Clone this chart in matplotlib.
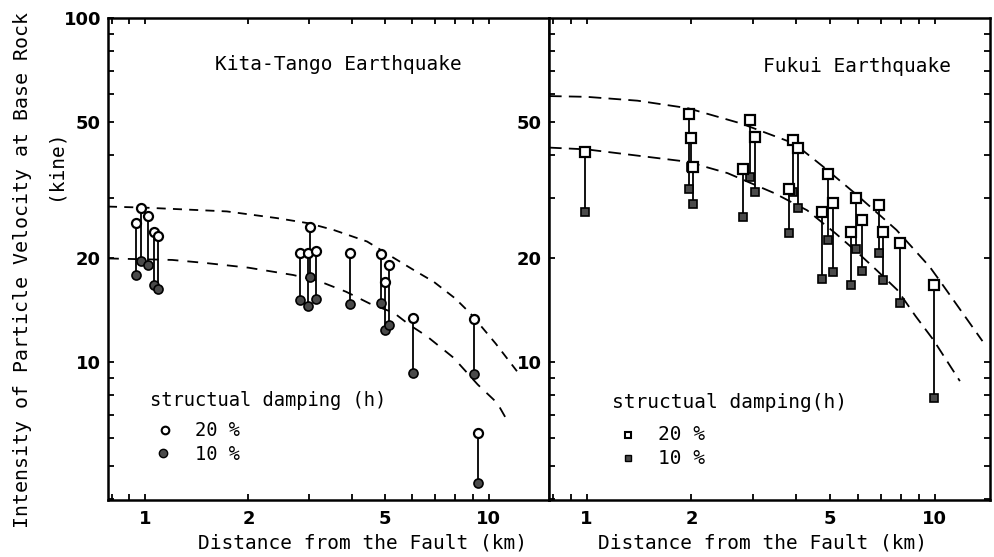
import matplotlib
matplotlib.use("Agg")
import matplotlib.pyplot as plt
from matplotlib.ticker import FixedLocator, NullFormatter, FixedFormatter, LogLocator

# ---------------- data ----------------
# Kita-Tango earthquake: distance, 20% damping value, 10% damping value
kt_x   = [0.94, 0.97, 1.02, 1.065, 1.09, 2.82, 2.99, 3.02, 3.15, 3.96, 4.86, 5.00, 5.12, 6.02, 9.06, 9.33]
kt_h20 = [25.3, 28.1, 26.6, 23.8, 23.3, 20.7, 20.8, 24.7, 21.0, 20.7, 20.6, 17.1, 19.2, 13.4, 13.3, 6.2]
kt_h10 = [17.9, 19.6, 19.2, 16.7, 16.3, 15.1, 14.5, 17.7, 15.2, 14.7, 14.8, 12.4, 12.8, 9.3, 9.2, 4.44]

# Fukui earthquake
fk_x   = [0.99, 1.97, 2.00, 2.02, 2.82, 2.95, 3.04, 3.81, 3.92, 4.05, 4.74, 4.92, 5.10, 5.75, 5.93, 6.17, 6.92, 7.12, 7.96, 9.93]
fk_h20 = [40.9, 52.7, 44.8, 36.8, 36.5, 50.5, 45.2, 31.9, 44.2, 41.8, 27.3, 35.3, 29.0, 23.9, 29.9, 25.8, 28.6, 23.9, 22.2, 16.7]
fk_h10 = [27.3, 31.9, 36.8, 28.7, 26.4, 34.5, 31.3, 23.7, 31.3, 28.0, 17.4, 22.7, 18.3, 16.7, 21.3, 18.4, 20.8, 17.3, 14.8, 7.85]

# dashed envelope curves
kt_up_x = [0.78, 1.0, 1.73, 2.42, 3.0, 3.54, 4.43, 5.2, 6.06, 6.93, 8.0, 8.88, 10.5, 12.1]
kt_up_y = [28.3, 28.1, 27.4, 26.2, 25.3, 24.2, 22.4, 20.3, 18.5, 17.1, 15.3, 13.8, 11.3, 9.4]
kt_lo_x = [0.78, 1.2, 1.5, 2.0, 2.7, 3.2, 3.85, 4.5, 5.3, 5.9, 6.6, 7.9, 9.3, 10.6, 11.2]
kt_lo_y = [20.0, 19.8, 19.4, 18.8, 17.9, 17.2, 16.0, 14.8, 13.9, 12.8, 11.9, 10.3, 8.6, 7.6, 6.9]
fk_up_x = [0.78, 1.0, 1.4, 1.95, 2.77, 3.94, 4.79, 5.97, 7.76, 9.67, 10.3, 13.7]
fk_up_y = [59.3, 59.0, 57.5, 54.7, 49.4, 43.2, 36.9, 30.6, 24.2, 18.9, 17.3, 11.5]
fk_lo_x = [0.78, 1.0, 1.95, 2.54, 3.45, 4.3, 5.2, 6.0, 6.8, 7.8, 8.8, 9.9, 11.8]
fk_lo_y = [42.0, 41.5, 38.2, 35.4, 31.0, 27.6, 23.6, 20.8, 18.5, 16.2, 13.6, 11.6, 8.8]

x_ticks = [1, 2, 5, 10]
y_ticks_left = [10, 20, 50, 100]
y_ticks_right = [10, 20, 50]

# ---------------- figure ----------------
W, H = 994, 557
fig = plt.figure(figsize=(W / 100, H / 100), dpi=100)
mono = "DejaVu Sans Mono"

def fx(px):
    return px / W

def fy(py):
    return 1 - py / H

ax1 = fig.add_axes([fx(108), fy(500), fx(549) - fx(108), fy(18) - fy(500)])
ax2 = fig.add_axes([fx(549), fy(500), fx(990) - fx(549), fy(18) - fy(500)])

filled = "#4a4a4a"

def style(ax, xlim, yticks):
    ax.set_xscale("log")
    ax.set_yscale("log")
    ax.set_xlim(*xlim)
    ax.set_ylim(3.97, 100)
    ax.xaxis.set_major_locator(FixedLocator(x_ticks))
    ax.xaxis.set_major_formatter(FixedFormatter([str(t) for t in x_ticks]))
    ax.xaxis.set_minor_locator(LogLocator(base=10, subs=range(2, 10)))
    ax.xaxis.set_minor_formatter(NullFormatter())
    ax.yaxis.set_major_locator(FixedLocator(yticks))
    ax.yaxis.set_major_formatter(FixedFormatter([str(t) for t in yticks]))
    ax.yaxis.set_minor_locator(LogLocator(base=10, subs=range(2, 10)))
    ax.yaxis.set_minor_formatter(NullFormatter())
    for s in ax.spines.values():
        s.set_linewidth(1.8)
    ax.tick_params(which="both", direction="in", length=4, width=1.3, top=True)
    ax.tick_params(axis="x", which="major", pad=7)
    ax.tick_params(axis="y", which="major", pad=5)
    for lab in ax.get_xticklabels() + ax.get_yticklabels():
        lab.set_fontfamily("DejaVu Sans")
        lab.set_fontweight("bold")
        lab.set_fontsize(13)

style(ax1, (0.78, 15.0), y_ticks_left)
style(ax2, (0.78, 14.4), y_ticks_right)
ax2.tick_params(axis="y", which="both", right=True)

# dashed curves
ax1.plot(kt_up_x, kt_up_y, color="black", lw=1.3, ls=(0, (5, 4)))
ax1.plot(kt_lo_x, kt_lo_y, color="black", lw=1.3, ls=(0, (6, 5)))
ax2.plot(fk_up_x, fk_up_y, color="black", lw=1.3, ls=(0, (7, 4)))
ax2.plot(fk_lo_x, fk_lo_y, color="black", lw=1.3, ls=(0, (7, 4)))

# stems and markers
for x, a, b in zip(kt_x, kt_h20, kt_h10):
    ax1.plot([x, x], [a, b], color="black", lw=1.3, zorder=2)
ax1.plot(kt_x, kt_h10, ls="none", marker="o", ms=6.5, mfc=filled, mec="black", mew=1.2, zorder=3)
ax1.plot(kt_x, kt_h20, ls="none", marker="o", ms=6.5, mfc="white", mec="black", mew=1.6, zorder=4)

for x, a, b in zip(fk_x, fk_h20, fk_h10):
    ax2.plot([x, x], [a, b], color="black", lw=1.3, zorder=2)
ax2.plot(fk_x, fk_h10, ls="none", marker="s", ms=6.3, mfc=filled, mec="black", mew=1.2, zorder=3)
ax2.plot(fk_x, fk_h20, ls="none", marker="s", ms=6.5, mfc="white", mec="black", mew=1.6, zorder=4)

# panel titles
fig.text(fx(215), fy(65), "Kita-Tango Earthquake", family=mono, fontsize=14, va="center", ha="left")
fig.text(fx(763), fy(66), "Fukui Earthquake", family=mono, fontsize=14, va="center", ha="left")

# legends
fig.text(fx(150), fy(401), "structual damping (h)", family=mono, fontsize=13.5, va="center", ha="left")
fig.text(fx(195), fy(431), "20 %", family=mono, fontsize=13.5, va="center", ha="left")
fig.text(fx(195), fy(454), "10 %", family=mono, fontsize=13.5, va="center", ha="left")
ax1.plot([fx(165)], [fy(430)], transform=fig.transFigure, marker="o", ms=5.5, mfc="white", mec="black", mew=1.5, clip_on=False)
ax1.plot([fx(163)], [fy(453)], transform=fig.transFigure, marker="o", ms=6, mfc=filled, mec="black", mew=1, clip_on=False)

fig.text(fx(612), fy(402), "structual damping(h)", family=mono, fontsize=14, va="center", ha="left")
fig.text(fx(658), fy(435), "20 %", family=mono, fontsize=14, va="center", ha="left")
fig.text(fx(658), fy(458), "10 %", family=mono, fontsize=14, va="center", ha="left")
ax2.plot([fx(628)], [fy(435)], transform=fig.transFigure, marker="s", ms=5, mfc="white", mec="black", mew=1.5, clip_on=False)
ax2.plot([fx(628)], [fy(458)], transform=fig.transFigure, marker="s", ms=5, mfc=filled, mec="black", mew=1, clip_on=False)

# axis labels
fig.text(fx(363), fy(543), "Distance from the Fault (km)", family=mono, fontsize=14, va="center", ha="center")
fig.text(fx(762), fy(543), "Distance from the Fault (km)", family=mono, fontsize=14, va="center", ha="center")
fig.text(fx(23), fy(270), "Intensity of Particle Velocity at Base Rock", family=mono, fontsize=14.3,
         rotation=90, va="center", ha="center")
fig.text(fx(55), fy(165), "(kine)", family=mono, fontsize=14, rotation=90, va="center", ha="center")

fig.savefig("out.png", dpi=100)
